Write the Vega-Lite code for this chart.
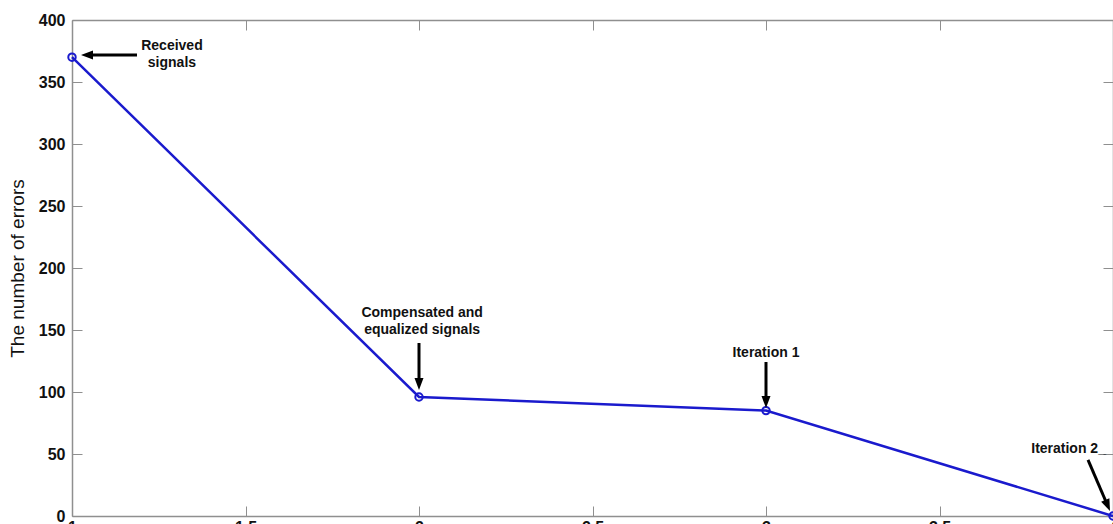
{
  "$schema": "https://vega.github.io/schema/vega-lite/v6.json",
  "width": 1041,
  "height": 496,
  "autosize": {"type": "none"},
  "padding": {"left": 72, "top": 20, "right": 0, "bottom": 8},
  "background": "white",
  "config": {
    "view": {"stroke": null},
    "font": "Liberation Sans",
    "axis": {
      "grid": false,
      "domainColor": "#8f8f8f",
      "domainWidth": 1.5,
      "tickColor": "#8f8f8f",
      "tickWidth": 1,
      "tickSize": -10,
      "labelFont": "Liberation Sans",
      "labelFontSize": 16,
      "labelFontWeight": "bold",
      "labelColor": "#111111",
      "labelFlush": false,
      "labelOverlap": false
    }
  },
  "datasets": {
    "errors": [
      {"x": 1, "y": 370},
      {"x": 2, "y": 96},
      {"x": 3, "y": 85},
      {"x": 4, "y": 0}
    ],
    "arrows": [
      {"x": 1.1873, "y": 371.8, "x2": 1.0432, "y2": 371.8, "angle": 270},
      {"x": 2.0, "y": 139.5, "x2": 2.0, "y2": 106.5, "angle": 180},
      {"x": 3.0, "y": 124.2, "x2": 3.0, "y2": 91.9, "angle": 180},
      {"x": 3.928, "y": 45.2, "x2": 3.9845, "y2": 8.47, "angle": 156.7}
    ],
    "labels": [
      {"x": 1.288, "y": 375.8, "label": "Received\nsignals", "align": "center"},
      {"x": 2.009, "y": 160.5, "label": "Compensated and\nequalized signals", "align": "center"},
      {"x": 3.0, "y": 128.2, "label": "Iteration 1", "align": "center"},
      {"x": 3.872, "y": 50.8, "label": "Iteration 2_", "align": "center"}
    ]
  },
  "layer": [
    {
      "layer": [
        {
          "data": {"name": "errors"},
          "mark": {"type": "line", "color": "#1a1acd", "strokeWidth": 2.5},
          "encoding": {
            "x": {
              "field": "x", "type": "quantitative",
              "scale": {"domain": [1, 4], "nice": false, "zero": false},
              "axis": {"orient": "bottom", "title": null, "values": [1, 1.5, 2, 2.5, 3, 3.5, 4], "format": "~g", "labelPadding": 13}
            },
            "y": {
              "field": "y", "type": "quantitative",
              "scale": {"domain": [0, 400], "nice": false},
              "axis": {
                "orient": "left", "title": "The number of errors",
                "values": [0, 50, 100, 150, 200, 250, 300, 350, 400],
                "labelPadding": 17,
                "titleFont": "Liberation Sans", "titleFontSize": 19, "titleFontWeight": "normal",
                "titleColor": "#111111", "titlePadding": 11
              }
            }
          }
        },
        {
          "data": {"name": "errors"},
          "mark": {"type": "point", "shape": "circle", "filled": false, "color": "#1a1acd", "strokeWidth": 2, "size": 55, "opacity": 1},
          "encoding": {
            "x": {"field": "x", "type": "quantitative"},
            "y": {"field": "y", "type": "quantitative"}
          }
        },
        {
          "data": {"name": "arrows"},
          "mark": {"type": "rule", "color": "black", "strokeWidth": 3},
          "encoding": {
            "x": {"field": "x", "type": "quantitative"},
            "y": {"field": "y", "type": "quantitative"},
            "x2": {"field": "x2"},
            "y2": {"field": "y2"}
          }
        },
        {
          "data": {"name": "arrows"},
          "mark": {"type": "point", "shape": "M0,-1L-0.75,1L0.75,1Z", "filled": true, "color": "black", "size": 144, "opacity": 1},
          "encoding": {
            "x": {"field": "x2", "type": "quantitative"},
            "y": {"field": "y2", "type": "quantitative"},
            "angle": {"field": "angle", "type": "quantitative", "scale": null}
          }
        },
        {
          "data": {"name": "labels"},
          "mark": {"type": "text", "font": "Liberation Sans", "fontSize": 14, "fontWeight": "bold", "color": "#111111", "lineBreak": "\n", "lineHeight": 17, "align": "center", "baseline": "alphabetic"},
          "encoding": {
            "x": {"field": "x", "type": "quantitative"},
            "y": {"field": "y", "type": "quantitative"},
            "text": {"field": "label"}
          }
        }
      ]
    },
    {
      "data": {"name": "errors"},
      "mark": {"type": "point", "opacity": 0},
      "encoding": {
        "x": {
          "field": "x", "type": "quantitative",
          "scale": {"domain": [1, 4], "nice": false, "zero": false},
          "axis": {"orient": "top", "title": null, "labels": false, "values": [1, 1.5, 2, 2.5, 3, 3.5, 4]}
        },
        "y": {
          "field": "y", "type": "quantitative",
          "scale": {"domain": [0, 400], "nice": false},
          "axis": {"orient": "right", "title": null, "labels": false, "values": [0, 50, 100, 150, 200, 250, 300, 350, 400]}
        }
      }
    }
  ],
  "resolve": {"scale": {"x": "independent", "y": "independent"}}
}
